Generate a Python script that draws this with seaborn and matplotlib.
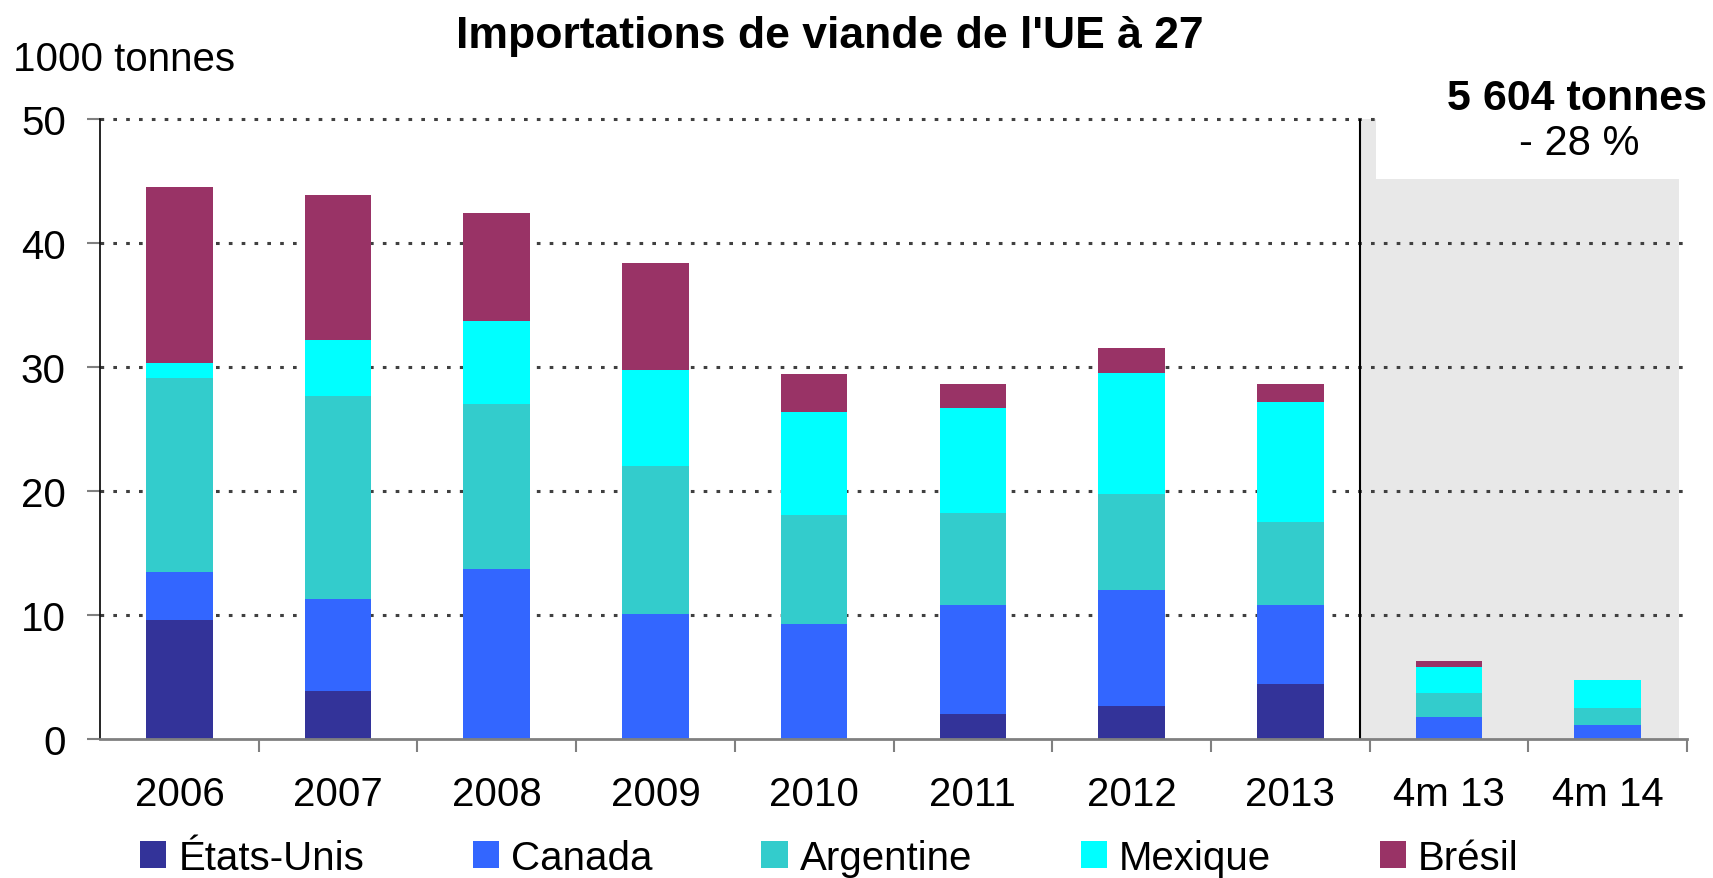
import matplotlib
matplotlib.use("Agg")
import matplotlib.pyplot as plt
from matplotlib.patches import Patch, Rectangle
import seaborn as sns
import pandas as pd
import numpy as np

sns.set_theme(style="white")
plt.rcParams["font.family"] = ["Liberation Sans", "DejaVu Sans"]
plt.rcParams["text.color"] = "black"

# ── données (1000 tonnes) ─────────────────────────────────────────────────────
periodes = ["2006", "2007", "2008", "2009", "2010", "2011", "2012", "2013", "4m 13", "4m 14"]
etats_unis = [9.6, 3.9, 0.0, 0.0, 0.0, 2.0, 2.7, 4.4, 0.0, 0.0]
canada = [3.9, 7.4, 13.7, 10.1, 9.3, 8.8, 9.3, 6.4, 1.8, 1.1]
argentine = [15.6, 16.4, 13.3, 11.9, 8.8, 7.4, 7.8, 6.7, 1.9, 1.4]
mexique = [1.2, 4.5, 6.7, 7.8, 8.3, 8.5, 9.7, 9.7, 2.1, 2.3]
bresil = [14.2, 11.7, 8.7, 8.6, 3.0, 1.9, 2.0, 1.4, 0.5, 0.0]

pays = ["États-Unis", "Canada", "Argentine", "Mexique", "Brésil"]
couleurs = ["#333399", "#3366FF", "#33CCCC", "#00FFFF", "#993366"]

df = pd.DataFrame({"periode": periodes, "États-Unis": etats_unis, "Canada": canada,
                   "Argentine": argentine, "Mexique": mexique, "Brésil": bresil})
cumul = df[pays].cumsum(axis=1)
cumul["periode"] = df["periode"]

fig = plt.figure(figsize=(17.13, 8.79), dpi=100)
ax = fig.add_axes([0.0584, 0.1581, 0.9264, 0.7053])

# zone grisée pour les 4 premiers mois
ax.add_patch(Rectangle((7.44, 0), 2.01, 45.2, color="#E8E8E8", zorder=0.5, lw=0))
ax.add_patch(Rectangle((7.44, 45.2), 0.10, 4.8, color="#E8E8E8", zorder=0.5, lw=0))

# grille pointillée
grid_kw = dict(color="#404040", lw=2.2, ls=(0, (1.2, 3.0)), zorder=1, clip_on=False)
for y in [10, 20, 30, 40]:
    ax.hlines(y, -0.5, 9.5, **grid_kw)
ax.hlines(50, -0.5, 7.54, **grid_kw)

# barres empilées : on trace du cumul le plus haut au plus bas
for nom, coul in zip(reversed(pays), reversed(couleurs)):
    sns.barplot(data=cumul, x="periode", y=nom, color=coul, width=0.42,
                saturation=1, errorbar=None, linewidth=0, ax=ax, zorder=2)

ax.vlines(7.44, 0, 50, color="black", lw=1.5, zorder=3, clip_on=False)

ax.set_xlim(-0.5, 9.5)
ax.set_ylim(0, 50)
ax.set_xlabel("")
ax.set_ylabel("")
ax.set_xticks(range(len(periodes)))
ax.set_xticklabels(periodes)
ax.set_xticks(np.arange(0.5, 10, 1), minor=True)
ax.set_yticks(range(0, 51, 10))
ax.tick_params(axis="x", which="major", length=0, pad=26, labelsize=29, labelcolor="black")
ax.tick_params(axis="x", which="minor", length=9.6, width=1.5, color="#808080", direction="out")
ax.tick_params(axis="y", length=9.6, width=1.5, color="#808080", direction="out",
               pad=15, labelsize=29, labelcolor="black")
ax.tick_params(axis="both", bottom=True, left=True)
ax.tick_params(axis="x", which="minor", bottom=True)

for s in ["top", "right"]:
    ax.spines[s].set_visible(False)
ax.spines["left"].set_color("black")
ax.spines["left"].set_linewidth(1.2)
ax.spines["bottom"].set_color("#808080")
ax.spines["bottom"].set_linewidth(2)
ax.spines["bottom"].set_zorder(4)

# textes
fig.text(830 / 1713, 1 - 48 / 879, "Importations de viande de l'UE à 27",
         ha="center", va="baseline", fontsize=32, fontweight="bold")
fig.text(13 / 1713, 1 - 71 / 879, "1000 tonnes", ha="left", va="baseline", fontsize=29)
fig.text(1707 / 1713, 1 - 110 / 879, "5 604 tonnes", ha="right", va="baseline",
         fontsize=31, fontweight="bold")
fig.text(1579 / 1713, 1 - 155 / 879, "- 28 %", ha="center", va="baseline", fontsize=30)

handles = [Patch(facecolor=c, edgecolor="none") for c in couleurs]
fig.legend(handles, pays, loc="center left", bbox_to_anchor=(140 / 1713, 1 - 859 / 879),
           ncol=5, frameon=False, fontsize=29, handlelength=0.65, handleheight=0.65,
           handletextpad=0.3, columnspacing=2.7, borderpad=0, borderaxespad=0)

fig.savefig("out.png", dpi=100)
